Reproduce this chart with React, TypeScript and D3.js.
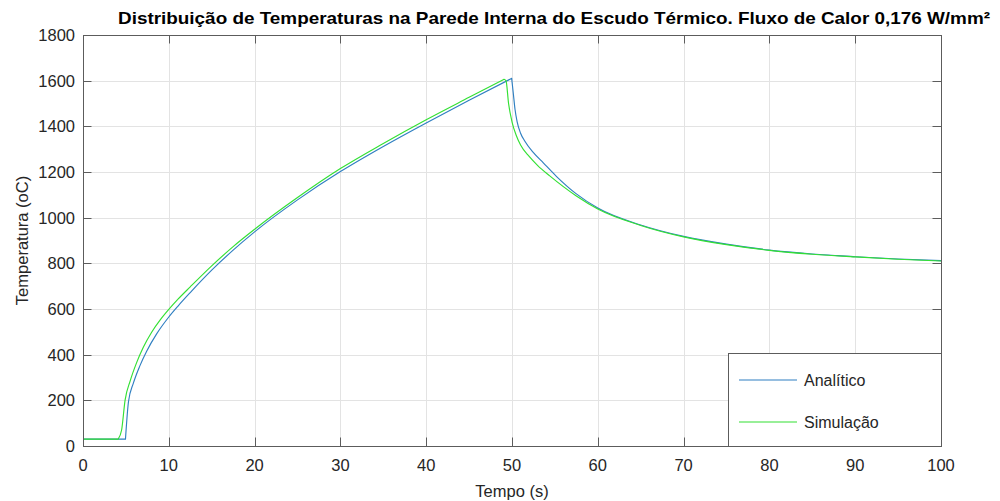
import React from "react";
import * as d3 from "d3";

// Time (s) and temperature (°C) samples for each curve
const analiticoTime = [0, 4.95, 5.3, 5.87, 6.64, 7.42, 8.6, 10, 11.1, 12.5, 15, 17.5, 20, 25, 30, 35, 40, 45, 49.96, 50.15, 50.35, 50.6, 51, 51.5, 52.5, 53.65, 55.2, 57.5, 60, 65, 70, 75, 80, 85, 90, 95, 100];
const analiticoTemp = [30, 30, 194, 275, 352, 415, 492, 565, 614, 672, 770, 858, 938, 1078, 1202, 1312, 1415, 1514, 1610, 1545, 1475, 1420, 1370, 1335, 1285, 1240, 1180, 1104, 1042, 968, 918, 884, 858, 841, 829, 819, 812];

const simulacaoTime = [0, 4.1, 4.5, 4.9, 5.5, 6.25, 7.03, 8.0, 9.0, 10, 11.1, 12.5, 15, 17.5, 20, 25, 30, 35, 40, 45, 49.07, 49.3, 49.6, 50.0, 50.5, 51, 52, 53, 54.4, 57.5, 60, 65, 70, 75, 80, 85, 90, 95, 100];
const simulacaoTemp = [30, 30, 70, 200, 285, 365, 432, 498, 552, 598, 644, 697, 789, 873, 949, 1088, 1215, 1325, 1429, 1527, 1606, 1600, 1500, 1420, 1360, 1318, 1268, 1228, 1183, 1095, 1038, 966, 916, 882, 857, 840, 828, 818, 810];

const xTicks = [0, 10, 20, 30, 40, 50, 60, 70, 80, 90, 100];
const yTicks = [0, 200, 400, 600, 800, 1000, 1200, 1400, 1600, 1800];

const seriesNames = ["Analítico", "Simulação"];
const seriesColors = ["#2f7fc1", "#33e033"];

const W = 1000;
const H = 501;
const left = 83;
const right = 941;
const top = 35;
const bottom = 446;
const font = "'Liberation Sans', Arial, Helvetica, sans-serif";
const axisColor = "#5c5c5c";
const textColor = "#262626";

const x = d3.scaleLinear().domain([0, 100]).range([left, right]);
const y = d3.scaleLinear().domain([0, 1800]).range([bottom, top]);

type Pt = [number, number];

// Flat plateau drawn straight, then the heating and cooling branches as
// separate smooth pieces so the onset and the peak stay sharp corners.
function buildPath(ts: number[], vs: number[]): string {
  const pts: Pt[] = ts.map((t, i) => [t, vs[i]]);
  let onset = 0;
  while (onset + 1 < vs.length && vs[onset + 1] === vs[0]) onset++;
  let peak = 0;
  vs.forEach((v, i) => {
    if (v > vs[peak]) peak = i;
  });
  const lin = d3.line<Pt>().x((d) => x(d[0])).y((d) => y(d[1]));
  const smooth = d3
    .line<Pt>()
    .x((d) => x(d[0]))
    .y((d) => y(d[1]))
    .curve(d3.curveMonotoneX);
  const flat = lin(pts.slice(0, onset + 1)) || "";
  const rise = (smooth(pts.slice(onset, peak + 1)) || "").replace(/^M/, "L");
  const fall = (smooth(pts.slice(peak)) || "").replace(/^M/, "L");
  return flat + rise + fall;
}

export default function App() {
  const paths = [
    buildPath(analiticoTime, analiticoTemp),
    buildPath(simulacaoTime, simulacaoTemp),
  ];
  const tickLen = 8.5;
  const legX = 728;
  const legY = 353;
  const legW = right - legX;
  const legH = bottom - legY;
  return (
    <svg
      width={W}
      height={H}
      style={{ position: "absolute", left: 0, top: 0, background: "#fff" }}
      fontFamily={font}
    >
      <rect x={0} y={0} width={W} height={H} fill="#fff" />
      {/* grid */}
      <g stroke="#e3e3e3" strokeWidth={1}>
        {xTicks.map((t) => (
          <line key={"gx" + t} x1={Math.round(x(t)) + 0.5} x2={Math.round(x(t)) + 0.5} y1={top} y2={bottom} />
        ))}
        {yTicks.map((t) => (
          <line key={"gy" + t} x1={left} x2={right} y1={Math.round(y(t)) + 0.5} y2={Math.round(y(t)) + 0.5} />
        ))}
      </g>
      {/* curves */}
      <g fill="none" strokeWidth={1.15} strokeLinejoin="round">
        {paths.map((p, i) => (
          <path key={i} d={p} stroke={seriesColors[i]} />
        ))}
      </g>
      {/* axes box and ticks */}
      <g stroke={axisColor} strokeWidth={1} fill="none">
        <rect x={left + 0.5} y={top + 0.5} width={right - left} height={bottom - top} />
        {xTicks.map((t) => {
          const px = Math.round(x(t)) + 0.5;
          return (
            <g key={"tx" + t}>
              <line x1={px} x2={px} y1={bottom} y2={bottom - tickLen} />
              <line x1={px} x2={px} y1={top} y2={top + tickLen} />
            </g>
          );
        })}
        {yTicks.map((t) => {
          const py = Math.round(y(t)) + 0.5;
          return (
            <g key={"ty" + t}>
              <line x1={left} x2={left + tickLen} y1={py} y2={py} />
              <line x1={right} x2={right - tickLen} y1={py} y2={py} />
            </g>
          );
        })}
      </g>
      {/* tick labels */}
      <g fill={textColor} fontSize={16.5}>
        {xTicks.map((t) => (
          <text key={"lx" + t} x={x(t)} y={471} textAnchor="middle">
            {t}
          </text>
        ))}
        {yTicks.map((t) => (
          <text key={"ly" + t} x={75} y={y(t) + 6} textAnchor="end">
            {t}
          </text>
        ))}
      </g>
      {/* axis titles */}
      <text x={(left + right) / 2} y={497} textAnchor="middle" fontSize={16.5} fill={textColor}>
        Tempo (s)
      </text>
      <text
        transform={`translate(28, ${(top + bottom) / 2}) rotate(-90)`}
        textAnchor="middle"
        fontSize={16.5}
        fill={textColor}
      >
        Temperatura (oC)
      </text>
      {/* title */}
      <text
        x={118}
        y={24}
        fontSize={17}
        fontWeight="bold"
        fill="#000"
        textLength={872}
        lengthAdjust="spacingAndGlyphs"
      >
        Distribuição de Temperaturas na Parede Interna do Escudo Térmico. Fluxo de Calor 0,176 W/mm²
      </text>
      {/* legend */}
      <g>
        <rect x={legX + 0.5} y={legY + 0.5} width={legW} height={legH} fill="#fff" stroke={axisColor} />
        {seriesNames.map((n, i) => {
          const ly = legY + 27 + i * 42;
          return (
            <g key={n}>
              <line x1={739} x2={797} y1={ly} y2={ly} stroke={seriesColors[i]} strokeWidth={1.15} />
              <text x={804} y={ly + 6} fontSize={16} fill={textColor}>
                {n}
              </text>
            </g>
          );
        })}
      </g>
    </svg>
  );
}
